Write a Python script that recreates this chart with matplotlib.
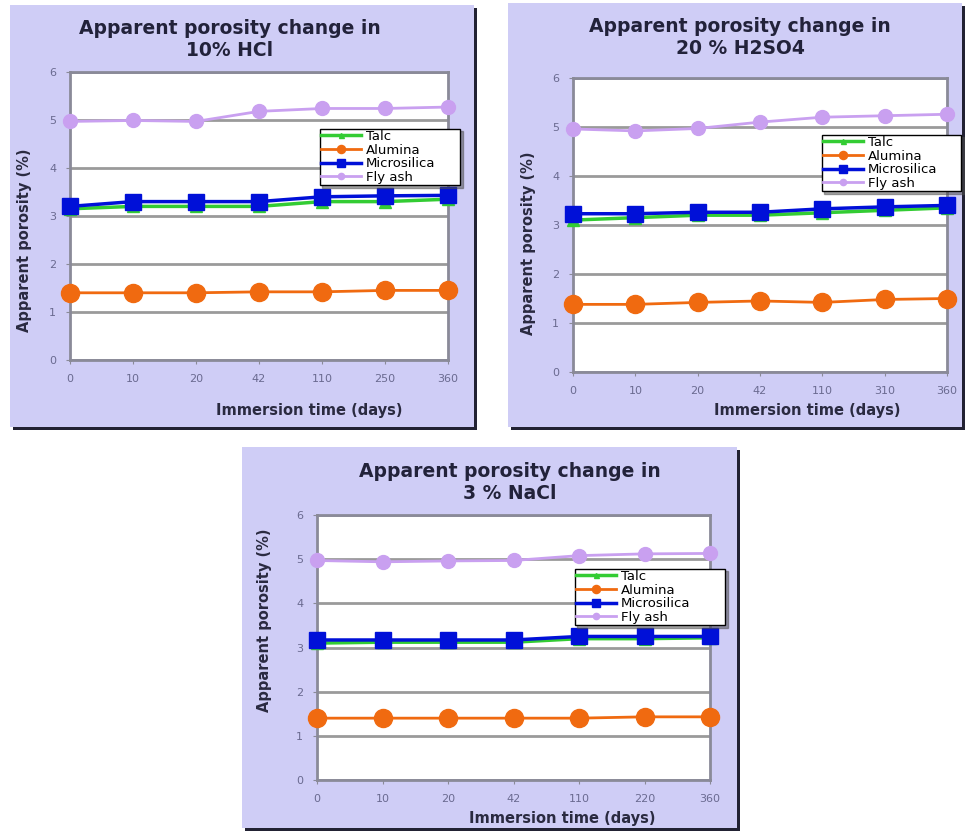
import matplotlib.pyplot as plt
from matplotlib.patches import Rectangle
import numpy as np

W, H = 965, 834

series = ["Talc", "Alumina", "Microsilica", "Fly ash"]

titles = ["Apparent porosity change in\n10% HCl",
          "Apparent porosity change in\n20 % H2SO4",
          "Apparent porosity change in\n3 % NaCl"]

days_hcl = ["0", "10", "20", "42", "110", "250", "360"]
days_h2so4 = ["0", "10", "20", "42", "110", "310", "360"]
days_nacl = ["0", "10", "20", "42", "110", "220", "360"]

# porosity (%) per series, HCl
talc_hcl = [3.15, 3.2, 3.2, 3.2, 3.3, 3.3, 3.35]
alumina_hcl = [1.4, 1.4, 1.4, 1.42, 1.42, 1.45, 1.45]
micro_hcl = [3.2, 3.3, 3.3, 3.3, 3.4, 3.42, 3.43]
flyash_hcl = [4.97, 4.99, 4.97, 5.18, 5.24, 5.24, 5.27]

# H2SO4
talc_h2so4 = [3.1, 3.15, 3.2, 3.2, 3.25, 3.3, 3.35]
alumina_h2so4 = [1.38, 1.38, 1.42, 1.45, 1.42, 1.48, 1.5]
micro_h2so4 = [3.23, 3.23, 3.26, 3.26, 3.33, 3.37, 3.4]
flyash_h2so4 = [4.96, 4.92, 4.97, 5.1, 5.2, 5.23, 5.26]

# NaCl
talc_nacl = [3.1, 3.12, 3.12, 3.12, 3.2, 3.2, 3.22]
alumina_nacl = [1.4, 1.4, 1.4, 1.4, 1.4, 1.43, 1.43]
micro_nacl = [3.17, 3.17, 3.17, 3.17, 3.25, 3.25, 3.25]
flyash_nacl = [4.97, 4.94, 4.96, 4.97, 5.08, 5.12, 5.13]

colors = ["#33cc33", "#f06a10", "#0010d8", "#c9a0f0"]
markers = ["^", "o", "s", "o"]
msizes = [8, 13, 12, 10]
lwidths = [2.5, 2, 2.5, 2]

bg = "#cfcdf6"


def fig_rect(x0, y0, x1, y1):
    # pixel box (top-left origin) -> figure fraction [l, b, w, h]
    return [x0 / W, 1 - y1 / H, (x1 - x0) / W, (y1 - y0) / H]


fig = plt.figure(figsize=(W / 100, H / 100), dpi=100, facecolor="white")

panels = [
    dict(box=(10, 5, 474, 427), ax=(70, 72, 448, 360), title=(230, 40),
         ylab=(25, 240), xlab=(309, 410), leg=(313, 122, 467, 187),
         days=days_hcl, data=[talc_hcl, alumina_hcl, micro_hcl, flyash_hcl]),
    dict(box=(508, 3, 962, 427), ax=(573, 78, 947, 372), title=(740, 38),
         ylab=(528, 243), xlab=(807, 410), leg=(815, 128, 968, 195),
         days=days_h2so4, data=[talc_h2so4, alumina_h2so4, micro_h2so4, flyash_h2so4]),
    dict(box=(242, 447, 737, 828), ax=(317, 515, 710, 780), title=(510, 483),
         ylab=(265, 620), xlab=(562, 818), leg=(568, 562, 732, 627),
         days=days_nacl, data=[talc_nacl, alumina_nacl, micro_nacl, flyash_nacl]),
]

for i, p in enumerate(panels):
    x0, y0, x1, y1 = p["box"]
    # drop shadow then the lavender card
    sh = fig_rect(x0 + 3, y0 + 3, x1 + 3, y1 + 3)
    fig.add_artist(Rectangle((sh[0], sh[1]), sh[2], sh[3], transform=fig.transFigure,
                             facecolor="#222233", edgecolor="none", zorder=0))
    r = fig_rect(x0, y0, x1, y1)
    fig.add_artist(Rectangle((r[0], r[1]), r[2], r[3], transform=fig.transFigure,
                             facecolor=bg, edgecolor="none", zorder=0))

    ax = fig.add_axes(fig_rect(*p["ax"]))
    ax.set_facecolor("white")
    x = np.arange(len(p["days"]))
    for j, name in enumerate(series):
        ax.plot(x, p["data"][j], color=colors[j], marker=markers[j], ms=msizes[j],
                lw=lwidths[j], label=name, clip_on=False,
                zorder=3 + (j == 2))
    ax.set_xlim(0, 6)
    ax.set_ylim(0, 6)
    ax.set_xticks(x)
    ax.set_xticklabels(p["days"])
    ax.set_yticks(range(7))
    ax.grid(axis="y", color="#9a9a9a", lw=2)
    ax.set_axisbelow(True)
    for s in ax.spines.values():
        s.set_color("#8a8a98")
        s.set_linewidth(2)
    ax.tick_params(labelsize=8, colors="#8a8a98", labelcolor="#6a6a90", length=3,
                   pad=7)

    tx, ty = p["title"]
    fig.text(tx / W, 1 - ty / H, titles[i], ha="center", va="center",
             fontsize=13.5, fontweight="bold", color="#22223a", linespacing=1.2)
    lx, ly = p["ylab"]
    fig.text(lx / W, 1 - ly / H, "Apparent porosity (%)", rotation=90, ha="center",
             va="center", fontsize=10.5, fontweight="bold", color="#2a2a40")
    xx, xy = p["xlab"]
    fig.text(xx / W, 1 - xy / H, "Immersion time (days)", ha="center", va="center",
             fontsize=10.5, fontweight="bold", color="#2a2a40")

    lr = fig_rect(*p["leg"])
    leg = ax.legend(loc="upper left", bbox_to_anchor=(lr[0], lr[1], lr[2], lr[3]),
                    bbox_transform=fig.transFigure, mode="expand", fontsize=9.5,
                    markerscale=0.45, handlelength=3.0, borderpad=0.1,
                    labelspacing=0.05, handletextpad=0.4, frameon=True,
                    fancybox=False, shadow=True, framealpha=1)
    leg.get_frame().set_edgecolor("black")
    leg.set_zorder(5)

fig.savefig("out.png", dpi=100, facecolor="white")
